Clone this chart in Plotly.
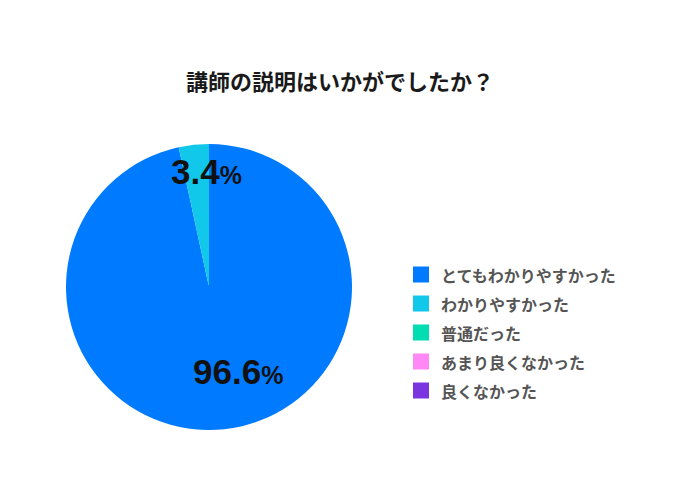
import math
import plotly.graph_objects as go

# ---- data ----
title_text = "講師の説明はいかがでしたか？"
categories = ["とてもわかりやすかった", "わかりやすかった", "普通だった", "あまり良くなかった", "良くなかった"]
values = [96.6, 3.4, 0, 0, 0]
colors = ["#007BFF", "#12C8EA", "#00DDB3", "#FF88F6", "#7A35E0"]

W, H = 680, 480
# pie geometry (px)
pcx, pcy, pr = 209, 287, 143
# placement of each slice's percentage label (radial factor, x shift px)
label_rf = [0.592, 0.813]
label_xshift = [20, 10]

def px(x):
    return x / W

def py(y):
    return 1 - y / H

leg_labels = [f"<span style='font-size:16px'>{c}</span>" for c in categories]

# legend-only pie (tiny, hidden behind the main pie) -> gives larger legend swatches
eps = 0.0005
legend_pie = go.Pie(
    labels=leg_labels,
    values=values,
    sort=False,
    direction="clockwise",
    marker=dict(colors=colors, line=dict(color=colors, width=4)),
    textinfo="none",
    hoverinfo="skip",
    domain=dict(x=[px(pcx) - eps, px(pcx) + eps], y=[py(pcy) - eps, py(pcy) + eps]),
    showlegend=True,
)

main_pie = go.Pie(
    labels=leg_labels,
    values=values,
    sort=False,
    direction="clockwise",
    rotation=0,
    marker=dict(colors=colors, line=dict(width=0)),
    textinfo="none",
    hoverinfo="label+percent",
    domain=dict(x=[px(pcx - pr), px(pcx + pr)], y=[py(pcy + pr), py(pcy - pr)]),
    showlegend=False,
)

fig = go.Figure([legend_pie, main_pie])

total = sum(values)
cum = 0.0
annotations = []
for i, v in enumerate(values):
    if v > 0:
        mid = (cum + v / 2) / total
        th = 2 * math.pi * mid
        rf = label_rf[i] if i < len(label_rf) else 0.7
        xs = label_xshift[i] if i < len(label_xshift) else 10
        ax = pcx + rf * pr * math.sin(th)
        ay = pcy - rf * pr * math.cos(th)
        annotations.append(dict(
            x=px(ax), y=py(ay), xref="paper", yref="paper",
            text=f"{v:.1f}<span style='font-size:25px'>%</span>",
            showarrow=False, xanchor="center", yanchor="middle", xshift=xs,
            font=dict(family="Liberation Sans, Arial, sans-serif", size=35, color="#111111", weight="bold"),
        ))
    cum += v

fig.update_layout(
    width=W, height=H,
    margin=dict(l=0, r=0, t=0, b=0),
    paper_bgcolor="white",
    plot_bgcolor="white",
    title=dict(
        text=title_text, x=0.5, xanchor="center", y=py(82), yanchor="middle",
        font=dict(family="Noto Sans CJK JP", size=22, color="#1a1a1a", weight="bold"),
    ),
    legend=dict(
        x=px(401), xanchor="left", y=py(255), yanchor="top",
        font=dict(family="Noto Sans CJK JP", size=20, color="#555555", weight="bold"),
        bgcolor="rgba(0,0,0,0)",
    ),
    annotations=annotations,
)

fig.write_html("out.html", config={"displayModeBar": False},
               post_script="document.body.style.margin='0';")
